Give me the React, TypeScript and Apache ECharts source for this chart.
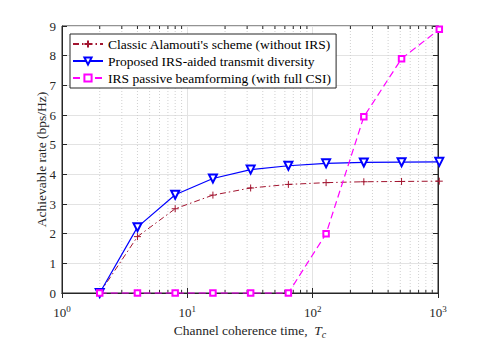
import React, { useEffect, useRef } from "react";
import * as echarts from "echarts";

const coherenceTimes = [2, 4, 8, 16, 32, 64, 128, 256, 512, 1024];
const alamoutiRates = [0, 1.9, 2.84, 3.3, 3.54, 3.66, 3.72, 3.75, 3.76, 3.77];
const proposedRates = [0, 2.22, 3.31, 3.86, 4.16, 4.29, 4.37, 4.4, 4.41, 4.42];
const passiveRates = [0, 0, 0, 0, 0, 0, 2.0, 5.94, 7.9, 8.89];
const minorXTicks = [2, 3, 4, 5, 6, 7, 8, 9, 20, 30, 40, 50, 60, 70, 80, 90, 200, 300, 400, 500, 600, 700, 800, 900];
const seriesNames = [
  "Classic Alamouti's scheme (without IRS)",
  "Proposed IRS-aided transmit diversity",
  "IRS passive beamforming (with full CSI)",
];

const FONT = "Liberation Serif";
const AXIS = "#262626";

export default function App() {
  const ref = useRef<HTMLDivElement>(null);
  useEffect(() => {
    if (!ref.current) return;
    const chart = echarts.init(ref.current, undefined, { renderer: "svg" });
    const pair = (ys: number[]) => coherenceTimes.map((x, i) => [x, ys[i]]);
    const tickStyle = { inside: true, length: 5, lineStyle: { color: AXIS, width: 1 } };
    chart.setOption({
      animation: false,
      backgroundColor: "#fff",
      textStyle: { fontFamily: FONT },
      grid: { left: 62, right: 47, top: 26, bottom: 46, show: true, borderColor: AXIS, borderWidth: 1, backgroundColor: "transparent" },
      legend: {
        data: seriesNames,
        orient: "vertical",
        left: 70,
        top: 34,
        itemWidth: 30,
        itemHeight: 9,
        itemGap: 3,
        padding: [3, 5, 3, 2],
        borderColor: AXIS,
        borderWidth: 1,
        backgroundColor: "#fff",
        textStyle: { fontFamily: FONT, fontSize: 13.5, color: "#000" },
      },
      xAxis: [
        {
          type: "log",
          logBase: 10,
          min: 1,
          max: 1000,
          name: "Channel coherence time,  {i|T}{sub|c}",
          nameLocation: "middle",
          nameGap: 28,
          nameMoveOverlap: false,
          nameTextStyle: {
            fontFamily: FONT,
            fontSize: 13.5,
            color: "#262626",
            rich: {
              i: { fontFamily: FONT, fontStyle: "italic", fontSize: 13.5, color: "#262626" },
              sub: { fontFamily: FONT, fontStyle: "italic", fontSize: 10, color: "#262626", padding: [8, 0, 0, 0] },
            },
          },
          axisLine: { show: true, lineStyle: { color: AXIS } },
          axisTick: tickStyle,
          axisLabel: {
            color: "#262626",
            fontFamily: FONT,
            fontSize: 13,
            margin: 11,
            formatter: (v: number) => `10{sup|${Math.round(Math.log10(v))}}`,
            rich: {
              sup: { fontSize: 9, fontFamily: FONT, color: "#262626", padding: [0, 0, 8, 0] },
            },
          },
          splitLine: { show: true, lineStyle: { color: "#e3e3e3", width: 1 } },
        },
        {
          type: "log",
          logBase: 10,
          min: 1,
          max: 1000,
          position: "top",
          axisLine: { show: true, lineStyle: { color: AXIS } },
          axisTick: tickStyle,
          axisLabel: { show: false },
          splitLine: { show: false },
        },
      ],
      yAxis: [
        {
          type: "value",
          min: 0,
          max: 9,
          interval: 1,
          name: "Achievable rate (bps/Hz)",
          nameLocation: "middle",
          nameGap: 14,
          nameMoveOverlap: false,
          nameTextStyle: { fontFamily: FONT, fontSize: 13.5, color: "#262626" },
          axisLine: { show: true, lineStyle: { color: AXIS } },
          axisTick: tickStyle,
          axisLabel: { color: "#262626", fontFamily: FONT, fontSize: 13, margin: 6 },
          splitLine: { show: true, lineStyle: { color: "#e3e3e3", width: 1 } },
        },
        {
          type: "value",
          min: 0,
          max: 9,
          interval: 1,
          position: "right",
          axisLine: { show: true, lineStyle: { color: AXIS } },
          axisTick: tickStyle,
          axisLabel: { show: false },
          splitLine: { show: false },
        },
      ],
      series: [
        {
          type: "custom",
          name: "minor",
          silent: true,
          z: 1,
          data: minorXTicks.map((x) => [x, 0]),
          encode: { x: 0, y: 1 },
          renderItem: (params: any, api: any) => {
            const x = api.value(0);
            const b = api.coord([x, 0]);
            const t = api.coord([x, 9]);
            return {
              type: "group",
              children: [
                { type: "line", shape: { x1: b[0], y1: b[1], x2: t[0], y2: t[1] }, style: { stroke: "#d0d0d0", lineWidth: 1, lineDash: [1, 2] } },
                { type: "line", shape: { x1: b[0], y1: b[1], x2: b[0], y2: b[1] - 3 }, style: { stroke: AXIS, lineWidth: 1 } },
                { type: "line", shape: { x1: t[0], y1: t[1], x2: t[0], y2: t[1] + 3 }, style: { stroke: AXIS, lineWidth: 1 } },
              ],
            };
          },
        },
        {
          type: "line",
          name: seriesNames[0],
          data: pair(alamoutiRates),
          clip: false,
          z: 3,
          symbol: "path://M5,0 L5,10 M0,5 L10,5",
          symbolSize: 7,
          lineStyle: { color: "#a2142f", width: 1, type: [6, 3, 1.5, 3] },
          itemStyle: { color: "#a2142f", borderColor: "#a2142f", borderWidth: 1 },
        },
        {
          type: "line",
          name: seriesNames[1],
          data: pair(proposedRates),
          clip: false,
          z: 4,
          symbol: "emptyTriangle",
          symbolRotate: 180,
          symbolSize: 8,
          lineStyle: { color: "#0000ff", width: 1.2 },
          itemStyle: { color: "#0000ff", borderColor: "#0000ff", borderWidth: 1 },
        },
        {
          type: "line",
          name: seriesNames[2],
          data: pair(passiveRates),
          clip: false,
          z: 5,
          symbol: "emptyRect",
          symbolSize: 5.5,
          lineStyle: { color: "#ff00ff", width: 1.2, type: [7, 4] },
          itemStyle: { color: "#ff00ff", borderColor: "#ff00ff", borderWidth: 1 },
        },
      ],
    });
    return () => chart.dispose();
  }, []);
  return <div ref={ref} style={{ width: 485, height: 344, position: "absolute", left: 0, top: 0 }} />;
}
